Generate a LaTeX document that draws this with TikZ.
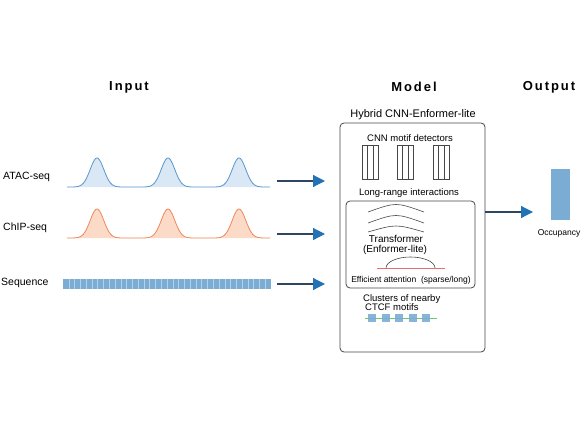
\documentclass[tikz,border=0pt]{standalone}
\usepackage{fontspec}
\setmainfont{Liberation Sans}
\newfontfamily\headfont[LetterSpace=15]{Liberation Sans}
\usetikzlibrary{arrows.meta}

\definecolor{atacline}{RGB}{90,150,205}
\definecolor{atacfill}{RGB}{218,232,245}
\definecolor{chipline}{RGB}{240,135,90}
\definecolor{chipfill}{RGB}{252,218,200}
\definecolor{seqblue}{RGB}{122,172,212}
\definecolor{arrline}{RGB}{45,70,100}
\definecolor{arrhead}{RGB}{35,115,180}
\definecolor{boxgray}{RGB}{70,70,70}
\definecolor{attred}{RGB}{230,110,110}
\definecolor{motifgreen}{RGB}{110,200,110}

\tikzset{
  header/.style={inner sep=0pt, font=\headfont\bfseries\fontsize{13}{15}\selectfont},
  lbl/.style={inner sep=0pt, font=\fontsize{#1}{12}\selectfont},
  lbl/.default=9.5,
  arr/.style={draw=arrline, line width=1.2pt,
    -{Triangle[length=12pt,width=12pt,fill=arrhead,color=arrhead]}},
  filt/.style={draw=boxgray, line width=0.8pt},
  declare function={pk(\t)=exp(-min(0.5*(\t/6.8)^2,30));}
}

\begin{document}
\begin{tikzpicture}[x=1pt,y=-1pt]
    \useasboundingbox (0,0) rectangle (585,420);
    % column headers
    \node[header] (input) at (129,87) {Input};
    \node[header] (model-h) at (414,87) {Model};
    \node[header] (output-h) at (549,87) {Output};

    % input tracks
    \node[lbl=10.5, anchor=west] (atac) at (3,177) {ATAC-seq};
    \node[lbl=10.5, anchor=west] (chip) at (3,228) {ChIP-seq};
    \node[lbl=10.5, anchor=west] (seq) at (1,283) {Sequence};
    \fill[atacfill] plot[domain=67:270,samples=200] (\x,{187-29*(pk(\x-97)+pk(\x-168)+pk(\x-239))}) -- cycle;
    \draw[atacline, line width=0.8pt] plot[domain=67:270,samples=200] (\x,{187-29*(pk(\x-97)+pk(\x-168)+pk(\x-239))});
    \fill[chipfill] plot[domain=67:270,samples=200] (\x,{238-29*(pk(\x-97)+pk(\x-168)+pk(\x-239))}) -- cycle;
    \draw[chipline, line width=0.8pt] plot[domain=67:270,samples=200] (\x,{238-29*(pk(\x-97)+pk(\x-168)+pk(\x-239))});
    \fill[seqblue] (63,279) rectangle (271,289);
    \foreach \i in {1,...,35}
      \draw[white, opacity=0.45, line width=0.5pt] (63+\i*5.78,279) -- ++(0,10);

    % model box
    \node[draw=boxgray, line width=0.8pt, rounded corners=4pt, minimum width=145pt,
      minimum height=229pt, inner sep=0pt] (model) at (412.5,237.5) {};
    \node[lbl=11] (title) at (413,115) {Hybrid CNN-Enformer-lite};
    \node[lbl] (cnn) at (410,138) {CNN motif detectors};
    \foreach \gx in {362,397,433}
      \foreach \k in {0,1,2}
        \draw[filt] (\gx+\k*5.5,145) rectangle ++(5.5,34);
    \node[lbl] (longrange) at (409,193) {Long-range interactions};
    \node[draw=boxgray, line width=0.8pt, rounded corners=4pt, minimum width=129pt,
      minimum height=87pt, inner sep=0pt] (attn) at (410.5,244.5) {};
    \draw[boxgray, line width=0.6pt] (368,212) .. controls (396,202) .. (424,212);
    \draw[boxgray, line width=0.6pt] (368,223) .. controls (396,213) .. (424,223);
    \draw[boxgray, line width=0.6pt] (368,232) .. controls (396,224) .. (424,232);
    \node[lbl=10] (trans) at (396,238.5) {Transformer};
    \node[lbl=10] (enf) at (395,250) {(Enformer-lite)};
    \draw[boxgray, line width=0.6pt] (386,268) arc[start angle=180, end angle=360, x radius=24.5, y radius=11];
    \draw[attred, line width=0.8pt] (377,268) -- (445,268);
    \node[lbl=8.5] (eff) at (411,280) {Efficient attention \ (sparse/long)};
    \node[lbl, anchor=west] (clus) at (363,299) {Clusters of nearby};
    \node[lbl, anchor=west] (ctcf) at (365,307.5) {CTCF motifs};
    \draw[motifgreen, line width=0.8pt] (365,318) -- (437,318);
    \foreach \cx in {372,385.5,399,412.5,426}
      \fill[seqblue, fill opacity=0.9] (\cx-4,314) rectangle ++(8,8);

    % output
    \fill[seqblue] (551,169) rectangle (570,220);
    \node[lbl=8.5] (occ) at (559,233) {Occupancy};

    % arrows
    \coordinate (a1) at (277,181);  \coordinate (b1) at (325,181);
    \coordinate (a2) at (277,234);  \coordinate (b2) at (325,234);
    \coordinate (a3) at (277,284);  \coordinate (b3) at (325,284);
    \coordinate (a4) at (485,212);  \coordinate (b4) at (533,212);
    \draw[arr] (a1) -- (b1);
    \draw[arr] (a2) -- (b2);
    \draw[arr] (a3) -- (b3);
    \draw[arr] (a4) -- (b4);
\end{tikzpicture}
\end{document}
